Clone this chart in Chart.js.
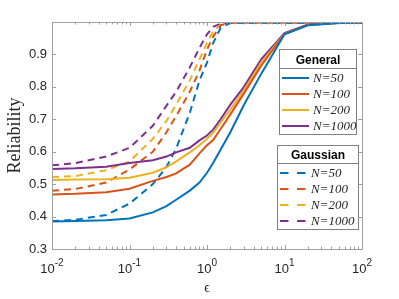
<!DOCTYPE html>
<html>
<head>
<meta charset="utf-8">
<script src="https://cdn.jsdelivr.net/npm/chart.js@4.4.1/dist/chart.umd.min.js"></script>
<style>
  html, body { margin: 0; padding: 0; background: #fff; }
  #wrap { width: 399px; height: 299px; position: relative; }
</style>
</head>
<body>
<div id="wrap"><canvas id="chart"></canvas></div>
<script>
// epsilon grid (x) and reliability curves
const epsValues = [0.01, 0.02, 0.05, 0.1, 0.2, 0.3, 0.4, 0.6, 0.8, 1, 1.2, 1.5, 2, 3, 5, 10, 20, 50, 100];
const nValues = [50, 100, 200, 1000];

const general50   = [0.385, 0.386, 0.389, 0.394, 0.413, 0.432, 0.452, 0.480, 0.505, 0.535, 0.565, 0.607, 0.660, 0.745, 0.840, 0.962, 0.990, 0.997, 0.998];
const general100  = [0.468, 0.470, 0.475, 0.486, 0.510, 0.522, 0.533, 0.560, 0.595, 0.620, 0.636, 0.670, 0.715, 0.780, 0.865, 0.963, 0.991, 0.997, 0.998];
const general200  = [0.513, 0.514, 0.515, 0.520, 0.535, 0.552, 0.570, 0.598, 0.620, 0.640, 0.658, 0.690, 0.730, 0.790, 0.875, 0.963, 0.991, 0.997, 0.998];
const general1000 = [0.547, 0.549, 0.554, 0.565, 0.574, 0.585, 0.598, 0.612, 0.635, 0.650, 0.668, 0.700, 0.745, 0.800, 0.885, 0.966, 0.992, 0.998, 0.998];

const gauss50   = [0.386, 0.390, 0.405, 0.440, 0.500, 0.553, 0.610, 0.720, 0.820, 0.875, 0.935, 0.982, 0.997, 0.998, 0.998, 0.998, 0.998, 0.998, 0.998];
const gauss100  = [0.480, 0.485, 0.505, 0.545, 0.600, 0.660, 0.710, 0.785, 0.850, 0.915, 0.955, 0.990, 0.997, 0.998, 0.998, 0.998, 0.998, 0.998, 0.998];
const gauss200  = [0.522, 0.525, 0.543, 0.570, 0.640, 0.695, 0.745, 0.820, 0.885, 0.935, 0.972, 0.992, 0.997, 0.998, 0.998, 0.998, 0.998, 0.998, 0.998];
const gauss1000 = [0.558, 0.565, 0.585, 0.612, 0.680, 0.742, 0.785, 0.860, 0.920, 0.962, 0.985, 0.995, 0.997, 0.998, 0.998, 0.998, 0.998, 0.998, 0.998];

const yTicks = [0.3, 0.4, 0.5, 0.6, 0.7, 0.8, 0.9];
const xTicks = [0.01, 0.1, 1, 10, 100];
const xTickExponents = ["-2", "-1", "0", "1", "2"];

const colors = ["#0072BD", "#D95319", "#EDB120", "#7E2F8E"];
const generalSeries = [general50, general100, general200, general1000];
const gaussSeries = [gauss50, gauss100, gauss200, gauss1000];

function toPoints(values) {
    return epsValues.map((x, i) => ({ x: x, y: values[i] }));
}

const datasets = [];
generalSeries.forEach((s, i) => {
    datasets.push({
        label: "General N=" + nValues[i],
        data: toPoints(s),
        borderColor: colors[i],
        borderWidth: 2,
        pointRadius: 0,
        fill: false
    });
});
gaussSeries.forEach((s, i) => {
    datasets.push({
        label: "Gaussian N=" + nValues[i],
        data: toPoints(s),
        borderColor: colors[i],
        borderWidth: 2,
        borderDash: [7, 5],
        pointRadius: 0,
        fill: false
    });
});

// MATLAB-style box axes, ticks, labels and the two legend boxes
const axesPlugin = {
    id: "matlabAxes",
    afterDraw(chart) {
        const { ctx, chartArea: a, scales: { x, y } } = chart;
        ctx.save();

        // box
        ctx.strokeStyle = "#a0a0a0";
        ctx.lineWidth = 1;
        ctx.strokeRect(a.left + 0.5, a.top + 0.5, a.right - a.left, a.bottom - a.top);

        // y ticks
        ctx.beginPath();
        yTicks.forEach(v => {
            const py = Math.round(y.getPixelForValue(v)) + 0.5;
            ctx.moveTo(a.left, py); ctx.lineTo(a.left + 4, py);
            ctx.moveTo(a.right, py); ctx.lineTo(a.right - 4, py);
        });
        // x ticks (major + minor)
        for (let d = -2; d <= 2; d++) {
            for (let m = 1; m <= 9; m++) {
                const v = m * Math.pow(10, d);
                if (v > 100) break;
                const px = Math.round(x.getPixelForValue(v)) + 0.5;
                const len = m === 1 ? 4 : 2.5;
                ctx.moveTo(px, a.bottom); ctx.lineTo(px, a.bottom - len);
                ctx.moveTo(px, a.top); ctx.lineTo(px, a.top + len);
            }
        }
        ctx.stroke();

        // y tick labels
        ctx.fillStyle = "#262626";
        ctx.font = "13px 'Liberation Sans'";
        ctx.textAlign = "right";
        ctx.textBaseline = "middle";
        yTicks.forEach(v => {
            ctx.fillText(v.toFixed(1), a.left - 5, y.getPixelForValue(v));
        });

        // x tick labels 10^k
        ctx.textAlign = "left";
        ctx.textBaseline = "alphabetic";
        xTicks.forEach((v, i) => {
            const px = x.getPixelForValue(v);
            ctx.font = "13px 'Liberation Sans'";
            const wBase = ctx.measureText("10").width;
            ctx.font = "10px 'Liberation Sans'";
            const wExp = ctx.measureText(xTickExponents[i]).width;
            const start = px - (wBase + wExp) / 2;
            ctx.font = "13px 'Liberation Sans'";
            ctx.fillText("10", start, a.bottom + 24);
            ctx.font = "10px 'Liberation Sans'";
            ctx.fillText(xTickExponents[i], start + wBase, a.bottom + 17);
        });

        // axis titles
        ctx.textAlign = "center";
        ctx.font = "14px 'Liberation Serif'";
        ctx.fillText("\u03f5", (a.left + a.right) / 2, a.bottom + 43);
        ctx.save();
        ctx.translate(20, (a.top + a.bottom) / 2);
        ctx.rotate(-Math.PI / 2);
        ctx.textBaseline = "alphabetic";
        ctx.font = "18px 'Liberation Serif'";
        ctx.fillText("Reliability", 0, 0);
        ctx.restore();

        // legends
        drawLegend(ctx, "General", 279.5, 49.5, 77, 85, 68.5, [78, 94, 110, 126], null, 282, 309, 313);
        drawLegend(ctx, "Gaussian", 277.5, 145.5, 81, 84, 163.5, [173, 189, 205, 221], [8.5, 8.5], 280, 306, 311);

        ctx.restore();
    }
};

function drawLegend(ctx, title, bx, by, bw, bh, sepY, rows, dash, x0, x1, tx) {
    ctx.save();
    ctx.fillStyle = "#ffffff";
    ctx.fillRect(bx, by, bw, bh);
    ctx.strokeStyle = "#808080";
    ctx.lineWidth = 1;
    ctx.strokeRect(bx, by, bw, bh);
    ctx.beginPath();
    ctx.moveTo(bx, sepY); ctx.lineTo(bx + bw, sepY);
    ctx.stroke();

    ctx.fillStyle = "#000000";
    ctx.font = "bold 12px 'Liberation Sans'";
    ctx.textAlign = "center";
    ctx.textBaseline = "alphabetic";
    ctx.fillText(title, bx + bw / 2, sepY - 4.5);

    rows.forEach((ry, i) => {
        ctx.strokeStyle = colors[i];
        ctx.lineWidth = 2;
        ctx.setLineDash(dash || []);
        ctx.beginPath();
        ctx.moveTo(x0, ry); ctx.lineTo(x1, ry);
        ctx.stroke();
        ctx.setLineDash([]);
        ctx.fillStyle = "#262626";
        ctx.font = "italic 13px 'Liberation Serif'";
        ctx.textAlign = "left";
        ctx.textBaseline = "middle";
        ctx.fillText("N=" + nValues[i], tx, ry + 1);
    });
    ctx.restore();
}

new Chart(document.getElementById("chart").getContext("2d"), {
    type: "line",
    data: { datasets: datasets },
    options: {
        responsive: true,
        maintainAspectRatio: false,
        animation: false,
        layout: { padding: { left: 52, right: 37, top: 22, bottom: 50 } },
        elements: { line: { tension: 0 } },
        scales: {
            x: { type: "logarithmic", min: 0.01, max: 100, display: false },
            y: { type: "linear", min: 0.3, max: 1, display: false }
        },
        plugins: {
            legend: { display: false },
            tooltip: { enabled: false }
        }
    },
    plugins: [axesPlugin]
});
</script>
</body>
</html>
